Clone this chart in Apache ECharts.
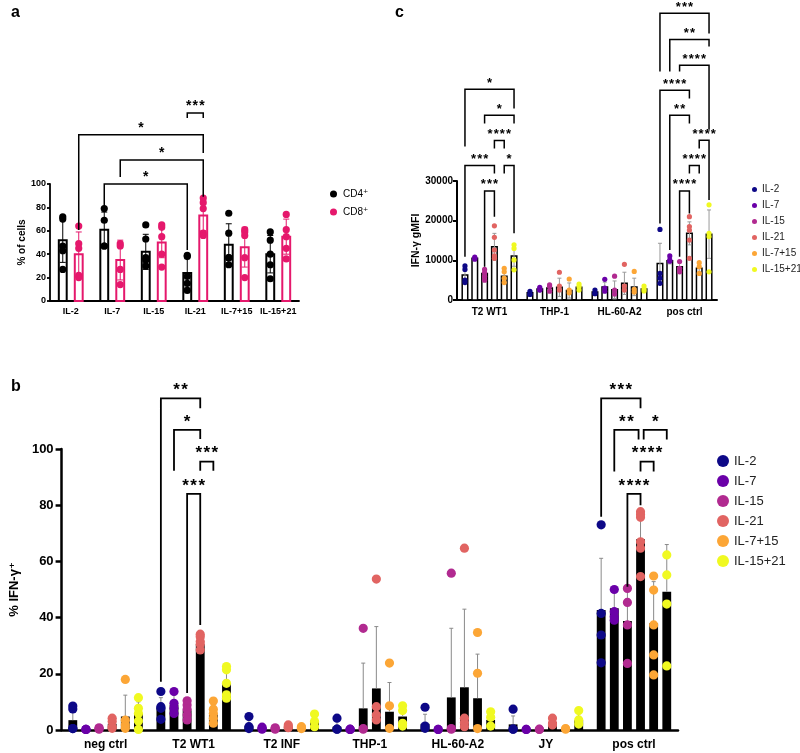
<!DOCTYPE html>
<html><head><meta charset="utf-8">
<script src="https://cdn.jsdelivr.net/npm/echarts@6/dist/echarts.min.js"></script>
<style>html,body{margin:0;padding:0;background:#fff}#c{width:800px;height:753px}</style>
</head><body><div id="c"></div><script>
// ---------------- DATA ----------------
// Panel a
const aCategories = ['IL-2','IL-7','IL-15','IL-21','IL-7+15','IL-15+21'];
const aCD4Mean = [52, 61, 42, 24, 48, 40];
const aCD4SD   = [19, 15, 15, 13, 18, 16];
const aCD8Mean = [40, 35, 50, 73, 46, 55];
const aCD8SD   = [19, 17, 13, 13, 17, 15];
const aCD4Points = [[72,70,47,43,27],[79,69,47,47],[65,53,37,35,30],[39,38,21,15,9],[75,58,37,37,31],[59,52,40,31,19]];
const aCD8Points = [[64,49,45,22,20],[49,47,27,14],[65,63,55,40,29],[88,84,79,58,56],[61,59,56,37,20],[74,61,55,45,36]];
// brackets: [groupL, seriesL, groupR, seriesR, top, leftEnd, rightEnd, label]
const aBrackets = [
  [3,0,3,1,160.7,156.4,156.4,'***'],
  [0,1,3,1,142,60.7,126.5,'*'],
  [1,1,3,1,120.5,106,89,'*'],
  [1,0,3,0,100,80.3,43.6,'*']
];

// Panel b
const bCategories = ['neg ctrl','T2 WT1','T2 INF','THP-1','HL-60-A2','JY','pos ctrl'];
const cytokines = ['IL-2','IL-7','IL-15','IL-21','IL-7+15','IL-15+21'];
const bMeans = [
  [3.5, 8, 1.5, 1.2, 2.2, 2, 42.7],
  [0.2, 9, 0.6, 0.2, 0.2, 0.2, 43.3],
  [0.5, 7, 0.5, 7.7, 11.6, 0.2, 38.8],
  [2.2, 30.5, 1.2, 14.8, 15.2, 2.8, 67.9],
  [4.8, 5.5, 0.8, 6.5, 11.3, 0.4, 38],
  [5.7, 16.5, 3.3, 4.8, 3.6, 3.5, 49.2]
];
const bSD = [
  [4, 3.5, 2, 2, 3.4, 3, 18.4],
  [0, 3.5, 0.4, 0, 0, 0, 6],
  [0.3, 2.8, 0.3, 16.1, 24.6, 0.1, 11],
  [1.6, 2.4, 0.5, 22, 27.8, 1.2, 9],
  [7.6, 3, 0.4, 10.4, 15.7, 0.1, 14.8],
  [4.3, 4.8, 2.3, 3.4, 2.2, 2.3, 16.8]
];
const bPoints = [
  [[8.5,7.5,0.5,0.5],[13.7,8.3,7.7,3.8],[4.8,1.2,0.5],[4.2,0.3,0.3],[8.1,1.4,0.6],[7.4,0.3,0.3],[73,41.5,33.8,23.9]],
  [[0.2,0.2,0.2],[13.7,9.5,7.7,5.9],[1,0.5,0.3],[0.3,0.2,0.2],[0.2,0.2],[0.2,0.2],[50,42.1,40.3,39.1]],
  [[0.8,0.5,0.3],[10.4,8.9,7.4,5.3,3.6],[0.8,0.5,0.3],[36.2,0.5,0.3],[55.8,0.5,0.3],[0.3,0.2],[50.4,45.4,37.4,23.7]],
  [[4.2,3.0,1.2,0.6],[34.1,33.2,31.5,30.5,28.5],[1.8,1.2,0.8],[53.7,8.3,5.3,3.6],[64.7,4.2,2.6,1.2],[4.2,2.4,1.8],[77.7,76.7,75.7,67,64.7,54.6]],
  [[18,3.5,1.8,0.6],[10.3,7.4,5.9,4.2,2.4],[1.2,0.8,0.5],[23.8,8.6,0.6],[34.7,20.2,0.5],[0.5,0.3],[54.8,49.8,37.4,26.7,19.6]],
  [[11.5,7.7,5.9,3.2,0.2],[22.6,21.4,16.6,12.5,11.3],[5.7,3.0,1.2],[8.6,6.9,2.4,1.4],[6.5,4.5,1.4],[6.9,3.6,2.1],[62.3,55.2,44.8,22.8]]
];
const bBrackets = [
  [1,0,1,3,118,17.2,114.5,'**'],
  [1,1,1,3,106.8,92.3,103.6,'*'],
  [1,3,1,4,95.5,92.3,92.3,'***'],
  [1,2,1,3,84,13.2,37.4,'***'],
  [6,0,6,3,118,75.9,114.5,'***'],
  [6,1,6,2.85,106.8,92,103.4,'**'],
  [6,3.24,6,5,106.8,103.4,103.4,'*'],
  [6,3,6,4,95.5,92,92,'****'],
  [6,2,6,3,84,51,80,'****']
];

// Panel c
const cCategories = ['T2 WT1','THP-1','HL-60-A2','pos ctrl'];
const cMeans = [
  [6300, 1800, 2000, 9200],
  [10500, 2800, 3300, 9900],
  [6700, 3000, 2600, 8400],
  [13400, 3200, 4200, 16800],
  [6000, 2400, 3300, 8000],
  [11100, 3200, 2800, 16600]
];
const cSD = [
  [1800, 500, 400, 5100],
  [300, 400, 1200, 800],
  [1000, 700, 2200, 1200],
  [3400, 2300, 2800, 2900],
  [1600, 1900, 2200, 1200],
  [2600, 600, 500, 6100]
];
const cPoints = [
  [[8600,7700,5000,4400],[2200,1500,1400],[2500,1700,1600],[17800,6700,5500,4200]],
  [[10800,10500,10300],[3200,2600,2500],[5200,3000,2200],[11100,10100,9800]],
  [[7700,6900,5900,5000],[3800,3400,2200],[6000,2500,1500],[9700,8000,7100]],
  [[18700,15800,12600,11100,10500],[7000,3500,2500],[9000,3500,2500],[21000,18500,17600,15100,10500]],
  [[8000,7100,5500,4400],[5300,2500,1800],[7200,2700,2000],[9400,8400,6700]],
  [[13900,13000,10100,7600],[4000,3300,2500],[3500,2800,2300],[24000,16800,16000,7100]]
];
const cBrackets = [
  [0,0,0,5,53100,38700,48300,'*'],
  [0,2,0,5,46600,44500,44500,'*'],
  [0,3,0,4,40200,38200,38200,'****'],
  [0,0,0,3,33900,10900,31900,'***'],
  [0,4,0,5,33900,31900,16800,'*'],
  [0,2,0,3,27500,8400,21000,'***'],
  [3,0,3,5,72300,57600,67200,'***'],
  [3,1,3,5,65700,57600,63900,'**'],
  [3,2,3,5,59200,57600,42900,'****'],
  [3,0,3,3,52900,19300,50800,'****'],
  [3,1,3,3,46600,12600,44500,'**'],
  [3,4,3,5,40300,38200,25200,'****'],
  [3,3,3,4,33900,31900,31900,'****'],
  [3,2,3,3,27500,10900,21800,'****']
];

// ---------------- STYLE ----------------
const FONT = '"Liberation Sans", Arial, "DejaVu Sans", sans-serif';
const plasma = ['#0d0887','#6a00a8','#b12a90','#e16462','#fca636','#f0f921'];
const PINK = '#e5186c';

const cfgA = {grid:0, n:2, step:0.385, width:0.19, lw:2, r:3.6, cap:3, errBoth:true, bracketLw:1.5, fs:14, textOff:7};
const cfgB = {grid:1, n:6, step:0.149, width:0.1, lw:0, r:4.6, cap:2, errBoth:false, bracketLw:1.8, fs:17, textOff:8, errColor:'#8a8a8a'};
const cfgC = {grid:2, n:6, step:0.151, width:0.085, lw:1.5, r:2.6, cap:2, errBoth:true, bracketLw:1.5, fs:13, textOff:6, errColor:'#9a9a9a'};

function offX(api, g, j, cfg) {
  const band = api.size([1,0])[0];
  return api.coord([g, 0])[0] + (j - (cfg.n - 1) / 2) * cfg.step * band;
}

function makeBars(name, means, sds, j, cfg, fill, stroke, errColor) {
  return {
    type:'custom', name:name, xAxisIndex:cfg.grid, yAxisIndex:cfg.grid, z:2,
    data: means.map((m,i)=>[i,m,sds[i]]),
    encode:{x:0,y:1},
    renderItem(params, api){
      const g = api.value(0), mean = api.value(1), sd = api.value(2);
      const band = api.size([1,0])[0];
      const cx = offX(api, g, j, cfg);
      const w = cfg.width * band;
      const y0 = api.coord([g,0])[1];
      const yt = api.coord([g,mean])[1];
      const yh = api.coord([g,mean+sd])[1];
      const yl = api.coord([g,Math.max(0,mean-sd)])[1];
      const ch = [];
      ch.push({type:'rect', shape:{x:cx-w/2, y:yt, width:w, height:y0-yt},
        style:{fill:fill, stroke:cfg.lw>0?stroke:null, lineWidth:cfg.lw}});
      if (sd > 0) {
        const ylo = cfg.errBoth ? yl : yt;
        ch.push({type:'line', shape:{x1:cx,y1:ylo,x2:cx,y2:yh}, style:{stroke:errColor, lineWidth:1}});
        ch.push({type:'line', shape:{x1:cx-cfg.cap,y1:yh,x2:cx+cfg.cap,y2:yh}, style:{stroke:errColor, lineWidth:1}});
        if (cfg.errBoth) ch.push({type:'line', shape:{x1:cx-cfg.cap,y1:yl,x2:cx+cfg.cap,y2:yl}, style:{stroke:errColor, lineWidth:1}});
      }
      return {type:'group', children:ch};
    }
  };
}

function makePoints(name, pts, j, cfg, color) {
  const data = [];
  pts.forEach((arr,i)=>arr.forEach(v=>data.push([i,v])));
  return {
    type:'custom', name:name, xAxisIndex:cfg.grid, yAxisIndex:cfg.grid, z:3,
    itemStyle:{color:color},
    data:data, encode:{x:0,y:1},
    renderItem(params, api){
      const g = api.value(0);
      const cx = offX(api, g, j, cfg);
      const cy = api.coord([g, api.value(1)])[1];
      return {type:'circle', shape:{cx:cx, cy:cy, r:cfg.r}, style:{fill:color}};
    }
  };
}

function makeBrackets(brackets, cfg) {
  return {
    type:'custom', name:'sig'+cfg.grid, xAxisIndex:cfg.grid, yAxisIndex:cfg.grid, z:4, silent:true,
    data: brackets.map(b=>[b[0], b[4]]),
    encode:{x:0,y:1},
    renderItem(params, api){
      const b = brackets[params.dataIndex];
      const x1 = offX(api, b[0], b[1], cfg), x2 = offX(api, b[2], b[3], cfg);
      const yOf = v => api.coord([0, v])[1];
      const yt = yOf(b[4]), yl = yOf(b[5]), yr = yOf(b[6]);
      return {type:'group', children:[
        {type:'polyline', shape:{points:[[x1,yl],[x1,yt],[x2,yt],[x2,yr]]},
          style:{stroke:'#000', lineWidth:cfg.bracketLw, fill:null}},
        {type:'text', x:(x1+x2)/2, y:yt - cfg.textOff,
          style:{text:b[7].split('').join('\u200A'), fontSize:cfg.fs, fontWeight:'bold', fontFamily:FONT,
                 fill:'#000', align:'center', verticalAlign:'middle'}}
      ]};
    }
  };
}

// ---------------- BUILD ----------------
const series = [];
series.push(makeBars('aCD4bar', aCD4Mean, aCD4SD, 0, cfgA, '#fff', '#000', '#000'));
series.push(makeBars('aCD8bar', aCD8Mean, aCD8SD, 1, cfgA, '#fff', PINK, PINK));
series.push(makePoints('CD4', aCD4Points, 0, cfgA, '#000'));
series.push(makePoints('CD8', aCD8Points, 1, cfgA, PINK));
series.push(makeBrackets(aBrackets, cfgA));

cytokines.forEach((c,j)=>series.push(makeBars('b'+c, bMeans[j], bSD[j], j, cfgB, '#000', '#000', cfgB.errColor)));
cytokines.forEach((c,j)=>series.push(makePoints(c, bPoints[j], j, cfgB, plasma[j])));
series.push(makeBrackets(bBrackets, cfgB));

cytokines.forEach((c,j)=>series.push(makeBars('c'+c, cMeans[j], cSD[j], j, cfgC, '#fff', '#000', cfgC.errColor)));
cytokines.forEach((c,j)=>series.push(makePoints(c, cPoints[j], j, cfgC, plasma[j])));
series.push(makeBrackets(cBrackets, cfgC));

function xAx(grid, cats, fs, margin, lw) {
  return {gridIndex:grid, type:'category', data:cats,
    axisLine:{lineStyle:{color:'#000', width:lw}},
    axisTick:{alignWithLabel:true, length:4, lineStyle:{color:'#000', width:lw}},
    axisLabel:{color:'#000', fontSize:fs, fontWeight:'bold', fontFamily:FONT, margin:margin, interval:0},
    splitLine:{show:false}};
}
function yAx(grid, max, interval, fs, margin, lw, tickLen, name, nameFs, nameGap) {
  return {gridIndex:grid, type:'value', min:0, max:max, interval:interval,
    axisLine:{show:true, lineStyle:{color:'#000', width:lw}},
    axisTick:{show:true, length:tickLen, lineStyle:{color:'#000', width:lw}},
    axisLabel:{color:'#000', fontSize:fs, fontWeight:'bold', fontFamily:FONT, margin:margin, formatter: v => String(v)},
    splitLine:{show:false},
    name:name, nameLocation:'middle', nameGap:nameGap,
    nameTextStyle:{color:'#000', fontSize:nameFs, fontWeight:'bold', fontFamily:FONT}};
}

const option = {
  animation:false,
  backgroundColor:'#fff',
  title:[
    {text:'a', left:6, top:0, textStyle:{fontSize:16, fontWeight:'bold', fontFamily:FONT, color:'#000'}},
    {text:'b', left:6, top:374, textStyle:{fontSize:16, fontWeight:'bold', fontFamily:FONT, color:'#000'}},
    {text:'c', left:390, top:0, textStyle:{fontSize:16, fontWeight:'bold', fontFamily:FONT, color:'#000'}}
  ],
  grid:[
    {left:50, top:184, width:249, height:117},
    {left:47, top:449, width:631, height:281},
    {left:457, top:181, width:260, height:119}
  ],
  xAxis:[
    xAx(0, aCategories, 9, 6, 1.8),
    xAx(1, bCategories, 12, 9, 2.5),
    xAx(2, cCategories, 10, 7, 2)
  ],
  yAxis:[
    yAx(0, 100, 20, 9, 4, 1.8, 3, '% of cells', 10, 22),
    yAx(1, 100, 20, 13, 8, 2.5, 6, '% IFN-γ\u207A', 13, 22),
    yAx(2, 30000, 10000, 10, 4, 2, 4, 'IFN-γ gMFI', 10.5, 28)
  ],
  legend:[
    {data:[{name:'CD4', itemStyle:{color:'#000'}},{name:'CD8', itemStyle:{color:PINK}}],
     orient:'vertical', left:325, top:183, icon:'circle', itemWidth:7, itemHeight:7, itemGap:6, selectedMode:false,
     formatter: n => n + '\u207A',
     textStyle:{fontSize:10, lineHeight:12, color:'#000', fontFamily:FONT, padding:[0,0,0,1]}},
    {data:cytokines.map((c,j)=>({name:c, itemStyle:{color:plasma[j]}})),
     orient:'vertical', left:712, top:449, icon:'circle', itemWidth:12, itemHeight:12, itemGap:6, itemTextGap:11, selectedMode:false,
     textStyle:{fontSize:13, lineHeight:14, color:'#222', fontFamily:FONT}},
    {data:cytokines.map((c,j)=>({name:c, itemStyle:{color:plasma[j]}})),
     orient:'vertical', left:747, top:178, icon:'circle', itemWidth:5, itemHeight:5, itemGap:3, itemTextGap:10, selectedMode:false,
     textStyle:{fontSize:10, lineHeight:13, color:'#222', fontFamily:FONT}}
  ],
  series: series
};
const chart = echarts.init(document.getElementById('c'), null, {renderer:'canvas'});
chart.setOption(option);
</script></body></html>
